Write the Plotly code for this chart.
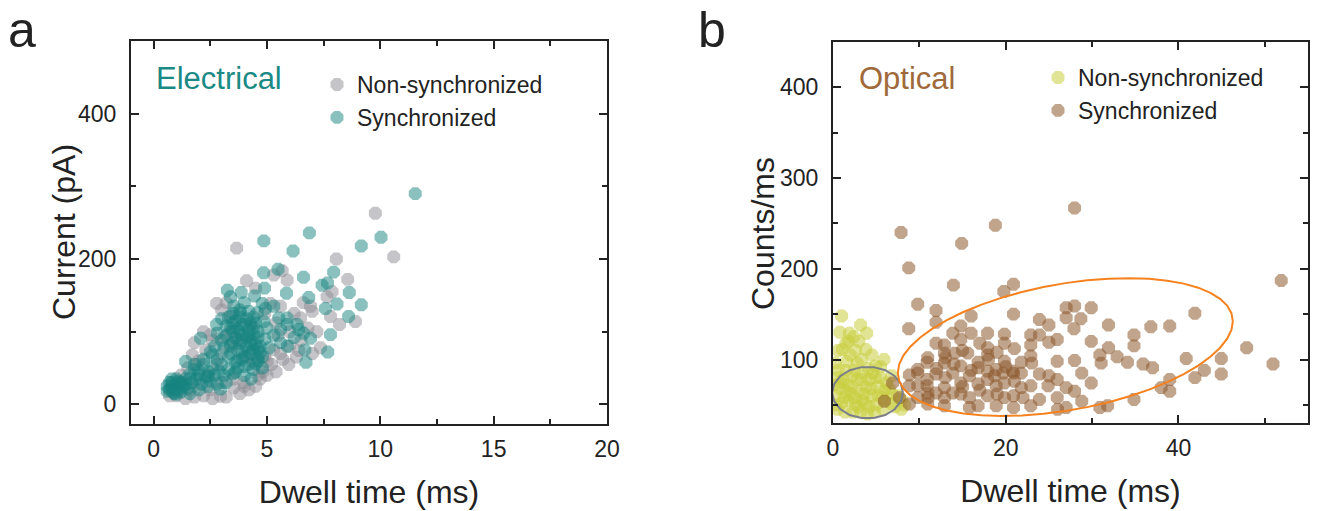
import numpy as np
import plotly.graph_objects as go

W, H = 1319, 511
FONT = "Liberation Sans, Arial, sans-serif"
INK = "#222222"

# ---------------- Panel a: electrical events ----------------
elec_nonsync_dwell = [
    9.78, 10.59, 3.66, 8.06, 8.56, 5.67, 2.78, 5.59, 7.8, 8.9, 6.99, 6.48, 7.65, 7.36, 5.96,
    5.01, 3.98, 3.54, 2.95, 1.7, 2.51, 3.39, 5.29, 5.89, 5.3, 7.87, 6.92, 5.15, 6.2, 6.0,
    5.5, 6.5, 7.0, 6.3, 5.7, 5.4, 5.0, 4.7, 4.5, 4.2, 3.8, 3.2, 2.6, 2.2, 1.8,
    1.4, 1.0, 0.7, 1.6, 2.0, 2.4, 2.8, 3.0, 2.3, 2.0, 2.6, 3.1, 3.4, 3.7, 4.1,
    4.4, 4.8, 5.2, 5.6, 6.0, 6.4, 4.9, 4.6, 4.0, 3.5, 3.0, 2.5, 1.2, 1.5, 1.9,
    3.4, 4.3, 4.9, 5.4, 3.2, 3.0, 2.2, 1.8, 4.5, 4.1, 6.8, 7.2, 8.2, 6.6,
]
elec_nonsync_current = [
    263, 203, 215, 200, 172, 184, 139, 135, 121, 114, 128, 119, 148, 78, 55,
    59, 30, 23, 11, 68, 96, 121, 75, 171, 178, 155, 135, 139, 125, 100,
    95, 88, 70, 65, 62, 45, 40, 35, 25, 20, 15, 10, 8, 12, 10,
    8, 12, 12, 20, 28, 40, 55, 70, 75, 60, 88, 92, 100, 88, 65,
    58, 45, 55, 70, 80, 74, 65, 40, 25, 35, 30, 20, 40, 50, 55,
    80, 110, 125, 112, 140, 130, 100, 85, 160, 170, 105, 100, 110, 140,
]

elec_sync_dwell = [
    11.54, 10.03, 9.16, 6.87, 6.15, 4.86, 5.49, 4.85, 3.25, 3.86, 4.45, 4.89, 6.61, 7.43, 7.94,
    7.67, 8.63, 8.09, 9.16, 6.84, 5.86, 7.58, 8.6, 7.8, 7.68, 6.67, 6.72, 6.92, 6.4, 5.89,
    2.78, 2.07, 1.41, 0.75, 2.95, 4.79, 4.93, 4.57, 5.3, 5.52, 5.89, 6.33, 6.62, 5.6, 4.86,
    4.27, 3.54, 3.39, 3.83,
    3.2, 3.4, 3.6, 3.8, 4.0, 4.2, 4.4, 4.6, 3.5, 3.7, 3.9, 4.1, 4.3, 4.5, 4.7,
    4.9, 5.1, 3.3, 3.6, 3.9, 4.2, 4.4, 4.6, 4.8, 3.1, 3.0, 2.8, 2.6, 2.4, 2.2,
    2.0, 1.8, 1.6, 1.4, 1.2, 1.0, 0.8, 0.6, 0.9, 1.1, 1.3, 0.7, 1.5, 1.7, 1.9,
    2.1, 2.3, 2.5, 2.7, 2.9, 3.1, 3.3, 3.5, 3.7, 4.0, 4.3, 3.8, 4.2, 4.0, 3.5,
    3.0, 2.7, 2.5, 5.3, 5.6, 5.9, 6.2, 5.0, 4.4, 3.9, 4.6, 1.0, 0.9, 1.2, 1.6,
    2.0, 2.4, 2.8, 3.2,
    3.3, 3.5, 3.7, 3.9, 4.1, 4.3, 4.5, 4.7, 3.4, 3.6, 3.8, 4.0, 4.2, 4.4, 4.6,
    3.2, 3.5, 3.8, 4.1, 4.4, 4.0, 3.7, 4.3, 3.9, 4.6, 3.6, 4.2, 3.4, 4.8, 4.5,
    0.6, 0.8, 1.0, 1.2, 0.7, 0.9, 1.1, 1.4, 0.8, 1.0,
    1.8, 2.2, 2.6, 2.4, 2.0, 3.0, 2.8, 1.6,
]
elec_sync_current = [
    290, 230, 218, 236, 211, 225, 186, 181, 157, 154, 149, 160, 175, 164, 182,
    167, 154, 138, 137, 147, 153, 132, 121, 96, 72, 75, 58, 91, 103, 119,
    110, 91, 59, 21, 21, 139, 132, 126, 135, 119, 110, 110, 98, 103, 114,
    112, 135, 148, 126,
    95, 105, 115, 100, 110, 95, 105, 92, 85, 75, 88, 80, 70, 82, 72,
    90, 78, 65, 58, 62, 55, 48, 60, 50, 78, 55, 62, 50, 45, 55,
    40, 48, 42, 35, 30, 28, 25, 18, 15, 20, 25, 30, 22, 30, 35,
    28, 38, 32, 40, 45, 40, 48, 42, 50, 40, 35, 130, 128, 140, 125,
    118, 80, 72, 95, 85, 80, 92, 105, 120, 72, 100, 35, 22, 17, 15,
    20, 25, 28, 30,
    120, 112, 104, 96, 118, 88, 112, 80, 70, 92, 84, 66, 102, 76, 64,
    108, 100, 120, 92, 96, 52, 60, 84, 110, 76, 44, 72, 82, 66, 56,
    25, 30, 22, 28, 20, 17, 32, 27, 35, 14,
    55, 62, 68, 38, 46, 88, 98, 35,
]

# ---------------- Panel b: optical events ----------------
opt_nonsync_dwell = [
    1.0, 1.9, 3.9, 3.0, 1.1, 3.8, 5.9, 4.9, 2.8, 0.3, 2.0, 1.5, 0.5, 2.2, 3.5,
    4.2, 5.5, 6.5, 6.0, 7.2, 7.9, 7.9, 6.8, 5.2, 4.5, 3.8, 3.0, 2.2, 1.5, 0.8,
    0.3, 1.0, 1.8, 2.6, 3.4, 4.2, 5.0, 5.8, 0.5, 1.4, 2.3, 3.2, 4.0, 4.8, 0.2,
    1.2, 2.8, 3.6, 4.6, 2.5, 6.2, 0.6, 1.6, 3.3, 5.5, 1.8, 0.8, 2.6, 4.5, 7.5,
    6.8, 8.3,
    0.4, 1.3, 2.1, 2.9, 3.7, 4.4, 5.2, 6.0, 6.7, 0.9, 1.7, 2.5, 3.3, 4.1, 4.9,
    5.7, 0.6, 1.5, 2.4, 3.2,
]
opt_nonsync_counts = [
    148, 129, 129, 120, 111, 111, 100, 93, 96, 96, 105, 88, 80, 82, 85,
    78, 80, 68, 55, 48, 56, 45, 62, 70, 60, 70, 65, 70, 65, 68,
    60, 52, 55, 50, 55, 48, 50, 45, 45, 42, 42, 42, 40, 42, 72,
    78, 78, 62, 85, 58, 74, 88, 98, 100, 92, 120, 130, 110, 105, 60,
    82, 50,
    50, 58, 62, 48, 52, 68, 60, 66, 52, 75, 72, 88, 78, 90, 80,
    58, 110, 118, 125, 138,
]

opt_sync_dwell = [
    27.97, 18.8, 14.9, 7.88, 8.77, 13.94, 20.9, 19.78, 51.9, 9.81, 11.93, 15.99, 20.9, 11.93, 8.77,
    27.0, 27.97, 29.9, 27.0, 23.9, 25.0, 28.7, 27.9, 31.9, 36.8, 38.99, 41.9, 34.85, 29.9, 31.9,
    32.9, 34.85, 34.1, 35.9, 37.0, 40.9, 44.96, 47.9, 50.95, 43.0, 44.96, 41.9, 38.99, 38.0, 38.99,
    34.85, 30.9, 31.8, 30.9, 27.97, 25.96, 29.9, 28.8, 27.0, 27.97, 28.8, 25.96, 27.0, 23.9, 22.9,
    25.96, 25.0, 23.9, 22.9, 25.96, 25.0, 22.9, 21.8, 19.85, 19.85, 20.9, 19.85, 17.9, 17.9, 16.8,
    15.99, 14.8, 14.8, 13.87, 12.9, 12.9, 10.9, 9.81, 11.93, 10.9, 10.9, 9.81, 8.84, 9.81, 10.97,
    12.9, 12.9, 12.9, 13.87, 14.8, 14.8, 15.8, 15.8, 16.8, 16.8, 17.9, 18.9, 19.85, 19.85, 20.9,
    18.9, 17.9, 20.9, 21.8, 22.9, 23.9, 21.8, 20.8, 19.7, 18.9, 17.9, 16.8, 15.8, 14.8, 13.87,
    11.93, 10.97, 9.81, 8.84, 6.9, 5.95, 7.7, 8.84, 11.93, 10.97, 12.9, 14.1, 15.6, 17.9, 18.7,
    24.9, 26.0, 31.05, 22.9,
    13.0, 14.0, 15.0, 16.0, 17.0, 18.0, 19.0, 20.0, 21.0, 22.0, 23.0, 15.0, 17.0, 19.0, 21.0,
    11.0, 12.0, 13.0,
]
opt_sync_counts = [
    267, 248, 228, 240, 201, 182, 183, 175, 187, 161, 154, 148, 150, 141, 134,
    157, 159, 157, 146, 144, 138, 145, 134, 138, 136, 137, 151, 127, 120, 113,
    103, 115, 97, 95, 91, 101, 101, 113, 95, 88, 84, 80, 78, 69, 65,
    56, 47, 49, 105, 99, 98, 74, 85, 69, 65, 54, 58, 47, 56, 49,
    78, 82, 127, 127, 122, 119, 104, 97, 128, 118, 85, 98, 113, 105, 97,
    129, 137, 122, 129, 116, 107, 97, 89, 84, 78, 71, 71, 71, 58, 51,
    69, 58, 49, 85, 74, 62, 58, 47, 49, 73, 78, 71, 74, 58, 47,
    49, 60, 60, 69, 71, 84, 85, 87, 85, 89, 87, 91, 82, 93, 63,
    63, 63, 85, 83, 74, 54, 58, 51, 118, 102, 96, 107, 107, 129, 82,
    71, 45, 96, 116,
    80, 95, 70, 88, 66, 100, 62, 92, 76, 58, 96, 110, 118, 108, 112,
    58, 90, 102,
]

# Confidence ellipses: centre, and two conjugate semi-diameters (data units)
nonsync_ellipse = dict(center=(4.0, 63.5), u=(4.1, 0.0), v=(0.0, 28.5), n=18)
sync_ellipse = dict(center=(26.9, 113.7), u=(19.4, 28.4), v=(0.0, 70.5), n=48)


def ellipse_path(center, u, v, n):
    t = np.linspace(0, 2 * np.pi, n + 1)
    x = center[0] + u[0] * np.cos(t) + v[0] * np.sin(t)
    y = center[1] + u[1] * np.cos(t) + v[1] * np.sin(t)
    return x, y


GRAY = "rgba(140,140,148,0.5)"
TEAL = "rgba(22,132,128,0.5)"
YELLOW = "rgba(200,205,60,0.55)"
BROWN = "rgba(140,90,45,0.55)"
MSIZE = 14
SYMBOL = "octagon"

fig = go.Figure()

fig.add_trace(go.Scatter(
    x=elec_nonsync_dwell, y=elec_nonsync_current, mode="markers",
    name="Non-synchronized", legend="legend",
    marker=dict(symbol=SYMBOL, size=MSIZE, color=GRAY, line=dict(width=0)),
    xaxis="x", yaxis="y"))
fig.add_trace(go.Scatter(
    x=elec_sync_dwell, y=elec_sync_current, mode="markers",
    name="Synchronized", legend="legend",
    marker=dict(symbol=SYMBOL, size=MSIZE, color=TEAL, line=dict(width=0)),
    xaxis="x", yaxis="y"))

fig.add_trace(go.Scatter(
    x=opt_nonsync_dwell, y=opt_nonsync_counts, mode="markers",
    name="Non-synchronized", legend="legend2",
    marker=dict(symbol=SYMBOL, size=MSIZE, color=YELLOW, line=dict(width=0)),
    xaxis="x2", yaxis="y2"))
fig.add_trace(go.Scatter(
    x=opt_sync_dwell, y=opt_sync_counts, mode="markers",
    name="Synchronized", legend="legend2",
    marker=dict(symbol=SYMBOL, size=MSIZE, color=BROWN, line=dict(width=0)),
    xaxis="x2", yaxis="y2"))

ex, ey = ellipse_path(**nonsync_ellipse)
fig.add_trace(go.Scatter(x=ex, y=ey, mode="lines", showlegend=False,
                         line=dict(color="#7b7f88", width=2), xaxis="x2", yaxis="y2"))
ex, ey = ellipse_path(**sync_ellipse)
fig.add_trace(go.Scatter(x=ex, y=ey, mode="lines", showlegend=False,
                         line=dict(color="#f5821f", width=2), xaxis="x2", yaxis="y2"))


def px_x(p):
    return p / W


def px_y(p):
    return (H - p) / H


def axis(domain, rng, dtick, minor, anchor, title=None, label_gap=8):
    spec = dict(
        domain=domain, range=rng, dtick=dtick, tick0=0,
        showline=True, linecolor=INK, linewidth=2, mirror="ticks",
        ticks="inside", ticklen=8, tickwidth=2, tickcolor=INK,
        minor=dict(dtick=minor, ticks="inside", ticklen=5, tickwidth=2, tickcolor=INK),
        showgrid=False, zeroline=False, anchor=anchor,
        tickfont=dict(family=FONT, size=23, color=INK),
        ticklabelstandoff=label_gap,
        automargin=False,
    )
    if title:
        spec["title"] = dict(text=title, font=dict(family=FONT, size=32, color=INK), standoff=20)
    return spec


ax_dom = [px_x(131), px_x(607)]
bx_dom = [px_x(833), px_x(1308)]
ay_dom = [px_y(424), px_y(41)]
by_dom = [px_y(423), px_y(42)]


def label(text, x, y, size, color, xanchor="left", yanchor="middle", angle=0):
    return dict(text=text, x=px_x(x), y=px_y(y), xref="paper", yref="paper",
                xanchor=xanchor, yanchor=yanchor, showarrow=False, textangle=angle,
                font=dict(family=FONT, size=size, color=color))


fig.update_layout(
    width=W, height=H,
    margin=dict(l=0, r=0, t=0, b=0),
    paper_bgcolor="white", plot_bgcolor="white",
    showlegend=True,
    xaxis=axis(ax_dom, [-1, 20], 5, 2.5, "y", "Dwell time (ms)", label_gap=3),
    yaxis=axis(ay_dom, [-27, 500], 200, 100, "x", label_gap=8),
    xaxis2=axis(bx_dom, [0, 55], 20, 10, "y2", "Dwell time (ms)", label_gap=3),
    yaxis2=axis(by_dom, [30, 450], 100, 50, "x2", label_gap=8),
    legend=dict(x=px_x(317), y=px_y(63), xanchor="left", yanchor="top",
                bgcolor="rgba(0,0,0,0)", font=dict(family=FONT, size=23, color=INK),
                tracegroupgap=0, itemclick=False),
    legend2=dict(x=px_x(1038), y=px_y(56), xanchor="left", yanchor="top",
                 bgcolor="rgba(0,0,0,0)", font=dict(family=FONT, size=23, color=INK),
                 tracegroupgap=0, itemclick=False),
    annotations=[
        label("a", 6, 0, 50, INK, yanchor="top"),
        label("b", 696, 0, 50, INK, yanchor="top"),
        label("Electrical", 154, 78, 31, "#1b8a85"),
        label("Optical", 857, 78, 31, "#a0693a"),
        label("Current (pA)", 64, 232, 32, INK, xanchor="center", angle=-90),
        label("Counts/ms", 763, 234, 32, INK, xanchor="center", angle=-90),
    ],
)

fig.write_html("out.html")
